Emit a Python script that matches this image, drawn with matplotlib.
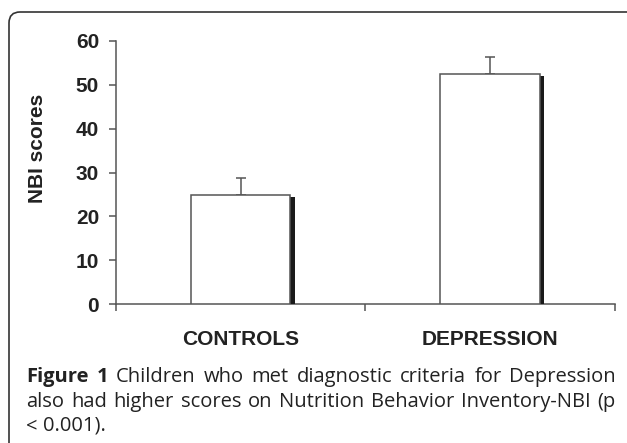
import matplotlib
matplotlib.use("Agg")
import matplotlib.pyplot as plt
import matplotlib.patheffects as pe
from matplotlib.patches import FancyBboxPatch
from matplotlib.transforms import IdentityTransform

#%% Data
groups = ["CONTROLS", "DEPRESSION"]
nbi_mean = [24.8, 52.5]
nbi_err = [4.0, 3.9]
y_ticks = [0, 10, 20, 30, 40, 50, 60]
caption = ["Figure 1 Children who met diagnostic criteria for Depression",
           "also had higher scores on Nutrition Behavior Inventory-NBI (p",
           "< 0.001)."]

W, H = 627, 443
axis_col = "#555555"
text_col = "#222222"
plt.rcParams["font.family"] = ["Liberation Sans", "DejaVu Sans"]

fig = plt.figure(figsize=(W / 100, H / 100), dpi=100)
fig.patch.set_facecolor("white")

# rounded frame (runs off the right and bottom edge)
frame = FancyBboxPatch((9, -30), W + 40, H - 12 + 30,
                       boxstyle="round,pad=0,rounding_size=11",
                       transform=IdentityTransform(), fill=False,
                       edgecolor="#333333", linewidth=1.2)
fig.add_artist(frame)

#%% Bar chart
ax = fig.add_axes([115.7 / W, 1 - 304 / H, (615 - 115.7) / W, 263 / H])
pos = [0.5, 1.5]
bars = ax.bar(pos, nbi_mean, width=0.4, color="white", edgecolor=axis_col,
              linewidth=1.1, zorder=3)
for b in bars:
    b.set_path_effects([pe.SimplePatchShadow(offset=(3.0, -1.4), shadow_rgbFace="#1a1a1a", alpha=1.0),
                        pe.Normal()])
ax.errorbar(pos, nbi_mean, yerr=[[0, 0], nbi_err], fmt="none", ecolor=axis_col,
            elinewidth=1.1, capsize=3.6, capthick=1.1, zorder=2)

ax.set_xlim(0, 2)
ax.set_ylim(0, 60)
ax.set_yticks(y_ticks)
ax.set_xticks([0, 1, 2])
ax.set_xticklabels([])
ax.set_xticks(pos, minor=True)
ax.set_xticklabels(groups, minor=True, fontsize=15, fontweight="bold", color=text_col)
ax.tick_params(axis="x", which="minor", length=0, pad=18.5)
ax.tick_params(axis="both", which="major", direction="out", length=5, width=1.1, color=axis_col)
ax.tick_params(axis="y", pad=7, labelsize=15, labelcolor=text_col)
for lab in ax.get_yticklabels():
    lab.set_fontweight("bold")

for s in ["top", "right"]:
    ax.spines[s].set_visible(False)
for s in ["left", "bottom"]:
    ax.spines[s].set_color(axis_col)
    ax.spines[s].set_linewidth(1.1)

ax.set_ylabel("NBI scores", fontsize=15, fontweight="bold", color=text_col)
ax.yaxis.set_label_coords(-0.138, 0.59)

#%% Caption, justified like the journal layout
renderer = fig.canvas.get_renderer()
cap_font = ["Open Sans", "DejaVu Sans"]
left_px, right_px = 26, 616
baselines = [382, 407, 431]
for i, line in enumerate(caption):
    words = line.split(" ")
    texts = []
    for j, w in enumerate(words):
        weight = "bold" if (i == 0 and j < 2) else "normal"
        t = fig.text(0, 0, w, fontsize=14.5, family=cap_font, fontweight=weight,
                     color=text_col, va="baseline", ha="left")
        texts.append(t)
    widths = [t.get_window_extent(renderer).width for t in texts]
    if i < len(caption) - 1:
        gap = (right_px - left_px - sum(widths)) / (len(words) - 1)
    else:
        gap = 5
    x = left_px
    for t, wd in zip(texts, widths):
        t.set_position((x / W, 1 - baselines[i] / H))
        x += wd + gap

fig.savefig("out.png", dpi=100)
